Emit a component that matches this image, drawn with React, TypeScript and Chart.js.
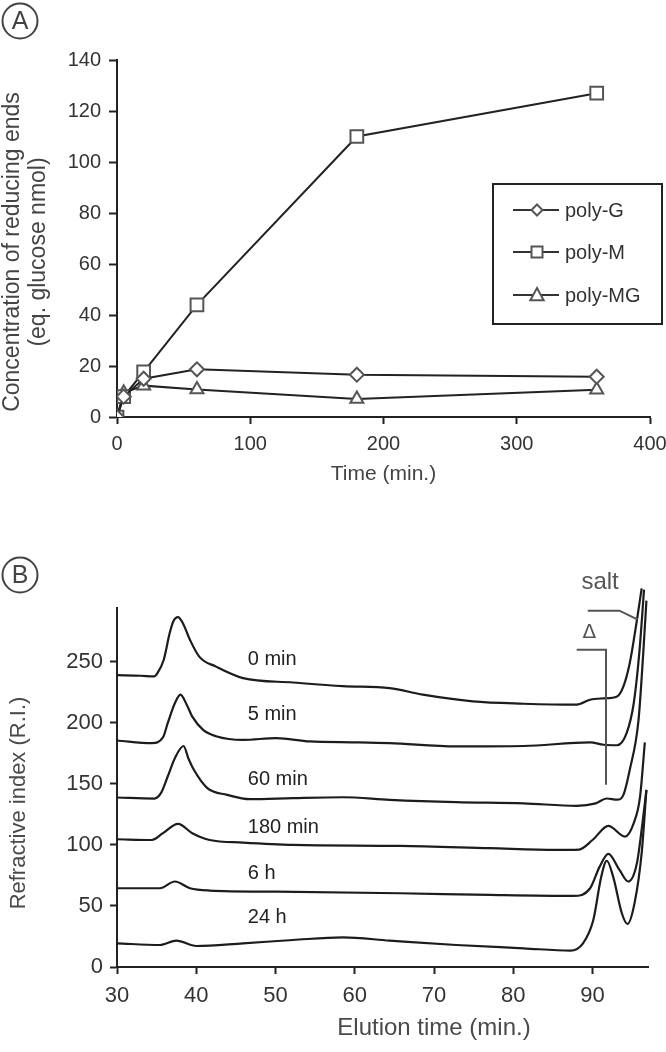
import React, { useEffect, useRef } from 'react';
import { Chart, registerables } from 'chart.js';
Chart.register(...registerables);

const FONT = '"Liberation Sans", Arial, Helvetica, sans-serif';

// ---------- Panel A data ----------
const timeMin = [0, 5, 20, 60, 180, 360];
const polyG = [0, 8, 15, 18.7, 16.6, 15.8];
const polyM = [0, 8, 17.7, 44, 110, 127];
const polyMG = [0, 9.5, 12.3, 10.8, 7.1, 10.7];
const seriesNamesA = ['poly-G', 'poly-M', 'poly-MG'];
const xTicksA = [0, 100, 200, 300, 400];
const yTicksA = [0, 20, 40, 60, 80, 100, 120, 140];

// ---------- Panel B data (elution time, refractive index) ----------
const t0min = [30, 33, 34.7, 35.1, 35.9, 36.65, 37.1, 37.7, 38.3, 39.2, 40.4, 42.5, 45.9, 52.2, 58.5, 64.4, 68.6, 74.9, 81.3, 88, 89.7, 91.4, 93.1, 93.9, 94.7, 95.6, 96.2];
const ri0min = [239, 238.5, 238, 240.7, 251.6, 273.5, 283, 286.6, 281.7, 268, 254, 246, 236.6, 233, 230, 228.4, 223, 217.5, 215.6, 214.8, 218.9, 220, 221.6, 229.8, 249, 284, 310];
const t5min = [30, 34.4, 35.8, 36.4, 37.3, 38, 38.8, 39.5, 40.9, 42.5, 45.9, 50.1, 54.3, 60, 64.4, 72.8, 81.3, 89.7, 91.4, 93.1, 94.3, 95.2, 95.9, 96.5];
const ri5min = [185.5, 183.4, 188, 199.7, 216, 223, 214.8, 205, 194, 189, 186, 187.4, 184.7, 184, 183.3, 180.6, 181, 183.9, 182, 181.6, 191.5, 216, 257, 309];
const t60min = [30, 34.7, 35.6, 36.4, 37.3, 38.4, 39.0, 39.7, 41.4, 43.9, 46.8, 52.2, 58.5, 64.4, 72.8, 81.3, 88, 90.4, 91.8, 93.1, 93.9, 94.7, 95.8, 96.4, 96.8];
const ri60min = [138.8, 137.9, 143, 156, 171, 181, 171, 161.5, 146.5, 141, 137.4, 138.3, 139, 136.9, 135, 134, 132, 134, 138, 137, 141, 161.5, 202, 257, 300];
const t180min = [30, 34.4, 35.8, 37.7, 39.5, 41.7, 45.9, 52.2, 65.7, 77, 85.4, 88.3, 90, 92, 94.1, 95.2, 96, 96.6];
const ri180min = [104.6, 104, 109.6, 117.2, 109.6, 104, 101.9, 100, 99.2, 97.3, 95.9, 96.2, 104, 115.6, 106.8, 117.8, 139.6, 184];
const t6h = [30, 35.4, 37.3, 39.2, 41.7, 50.1, 65.7, 77, 87.6, 89.7, 90.9, 92, 93.4, 94.5, 95.6, 96.3, 96.8];
const ri6h = [64.5, 64.5, 70, 64.5, 62.6, 61.7, 60.4, 59, 58.2, 64.5, 82.2, 92.6, 79.5, 70, 85, 117.8, 145];
const t24h = [30, 35.4, 37.5, 40, 45.9, 52.2, 58.5, 64.4, 72.8, 81.3, 87.2, 88.8, 90.1, 91.1, 91.8, 92.6, 93.7, 94.4, 95.3, 96.2, 96.8];
const ri24h = [19.4, 18, 21.6, 17.2, 19.4, 22.1, 24.3, 21.6, 18, 15.3, 13.4, 19.4, 38.5, 74, 87, 74, 44, 35.2, 52.2, 93.2, 145];
const traceLabels = ['0 min', '5 min', '60 min', '180 min', '6 h', '24 h'];
const traceLabelY = [251.6, 206.6, 153.3, 114, 76.2, 40.2];
const traceLabelX = 46.5;
const xTicksB = [30, 40, 50, 60, 70, 80, 90];
const yTicksB = [0, 50, 100, 150, 200, 250];

const zip = (xs: number[], ys: number[]) => xs.map((x, i) => ({ x, y: ys[i] }));

function circledLetter(ctx: CanvasRenderingContext2D, cx: number, cy: number, letter: string) {
  ctx.save();
  ctx.beginPath();
  ctx.arc(cx, cy, 17.5, 0, Math.PI * 2);
  ctx.lineWidth = 2;
  ctx.strokeStyle = '#444';
  ctx.stroke();
  ctx.fillStyle = '#444';
  ctx.font = `25px ${FONT}`;
  ctx.textAlign = 'center';
  ctx.textBaseline = 'middle';
  ctx.fillText(letter, cx, cy + 1);
  ctx.restore();
}

function drawMarker(ctx: CanvasRenderingContext2D, style: string, x: number, y: number, r: number) {
  ctx.beginPath();
  if (style === 'rectRot') {
    ctx.moveTo(x, y - r); ctx.lineTo(x + r, y); ctx.lineTo(x, y + r); ctx.lineTo(x - r, y); ctx.closePath();
  } else if (style === 'rect') {
    ctx.rect(x - r, y - r, 2 * r, 2 * r);
  } else {
    ctx.moveTo(x, y - r); ctx.lineTo(x + r * 0.95, y + r * 0.75); ctx.lineTo(x - r * 0.95, y + r * 0.75); ctx.closePath();
  }
  ctx.fillStyle = '#fff';
  ctx.fill();
  ctx.lineWidth = 2;
  ctx.strokeStyle = '#555';
  ctx.stroke();
}

const markerStyles = ['rectRot', 'rect', 'triangle'];

const decoA = {
  id: 'decoA',
  afterDraw(chart: any) {
    const ctx: CanvasRenderingContext2D = chart.ctx;
    const area = chart.chartArea;
    circledLetter(ctx, 20, 21, 'A');
    ctx.save();
    ctx.fillStyle = '#444';
    ctx.font = `21px ${FONT}`;
    ctx.textAlign = 'center';
    ctx.textBaseline = 'middle';
    ctx.fillText('Time (min.)', (area.left + area.right) / 2, 474);
    // y title
    ctx.translate(0, 252);
    ctx.rotate(-Math.PI / 2);
    ctx.font = `23px ${FONT}`;
    ctx.fillText('Concentration of reducing ends', 0, 13);
    ctx.fillText('(eq. glucose nmol)', 0, 39);
    ctx.restore();
    // legend
    ctx.save();
    ctx.lineWidth = 2;
    ctx.strokeStyle = '#222';
    ctx.strokeRect(493, 184, 169, 140);
    const rows = [210, 252, 295];
    seriesNamesA.forEach((name, i) => {
      const y = rows[i];
      ctx.beginPath();
      ctx.moveTo(513, y); ctx.lineTo(559, y);
      ctx.strokeStyle = '#333';
      ctx.lineWidth = 2;
      ctx.stroke();
      drawMarker(ctx, markerStyles[i], 537, y, i === 0 ? 5.5 : i === 1 ? 5.5 : 7);
      ctx.fillStyle = '#333';
      ctx.font = `20px ${FONT}`;
      ctx.textAlign = 'left';
      ctx.textBaseline = 'middle';
      ctx.fillText(name, 565, y + 1);
    });
    ctx.restore();
  },
};

const decoB = {
  id: 'decoB',
  afterDraw(chart: any) {
    const ctx: CanvasRenderingContext2D = chart.ctx;
    const xs = chart.scales.x;
    const ys = chart.scales.y;
    circledLetter(ctx, 20, 55, 'B');
    ctx.save();
    ctx.fillStyle = '#4a4a4a';
    ctx.font = `24px ${FONT}`;
    ctx.textAlign = 'center';
    ctx.textBaseline = 'middle';
    ctx.fillText('Elution time (min.)', 434, 508);
    ctx.save();
    ctx.translate(19, 283);
    ctx.rotate(-Math.PI / 2);
    ctx.font = `22px ${FONT}`;
    ctx.fillText('Refractive index (R.I.)', 0, 0);
    ctx.restore();
    // trace labels
    ctx.fillStyle = '#222';
    ctx.font = `20px ${FONT}`;
    ctx.textAlign = 'left';
    traceLabels.forEach((t, i) => {
      ctx.fillText(t, xs.getPixelForValue(traceLabelX), ys.getPixelForValue(traceLabelY[i]));
    });
    // salt annotation
    ctx.fillStyle = '#555';
    ctx.font = `24px ${FONT}`;
    ctx.fillText('salt', xs.getPixelForValue(88.6), ys.getPixelForValue(315));
    ctx.strokeStyle = '#555';
    ctx.lineWidth = 2;
    ctx.beginPath();
    ctx.moveTo(xs.getPixelForValue(89.4), ys.getPixelForValue(291.8));
    ctx.lineTo(xs.getPixelForValue(93.4), ys.getPixelForValue(291.8));
    ctx.lineTo(xs.getPixelForValue(95.7), ys.getPixelForValue(284.4));
    ctx.stroke();
    // delta annotation
    ctx.font = `20px "DejaVu Sans", ${FONT}`;
    ctx.textAlign = 'center';
    ctx.fillText('Δ', xs.getPixelForValue(89.6), ys.getPixelForValue(273.8));
    ctx.beginPath();
    ctx.moveTo(xs.getPixelForValue(88), ys.getPixelForValue(259.8));
    ctx.lineTo(xs.getPixelForValue(91.7), ys.getPixelForValue(259.8));
    ctx.lineTo(xs.getPixelForValue(91.7), ys.getPixelForValue(149.2));
    ctx.stroke();
    ctx.restore();
  },
};

function axisCommon(size: number, tickLen: number, pad: number) {
  return {
    type: 'linear' as const,
    grid: { drawOnChartArea: false, drawTicks: true, tickLength: tickLen, tickWidth: 2, tickColor: '#222' },
    border: { display: true, color: '#222', width: 2 },
    ticks: { font: { family: FONT, size }, color: '#333', padding: pad, maxRotation: 0, autoSkip: false },
  };
}

export default function App() {
  const refA = useRef<HTMLCanvasElement>(null);
  const refB = useRef<HTMLCanvasElement>(null);

  useEffect(() => {
    const pointCommon = { pointBackgroundColor: '#fff', pointBorderColor: '#555', pointBorderWidth: 2, borderColor: '#222', borderWidth: 2, tension: 0, showLine: true };
    const chartA = new Chart(refA.current!, {
      type: 'scatter',
      data: {
        datasets: [
          { label: seriesNamesA[0], data: zip(timeMin, polyG), pointStyle: 'rectRot', pointRadius: 7, ...pointCommon },
          { label: seriesNamesA[1], data: zip(timeMin, polyM), pointStyle: 'rect', pointRadius: 9, ...pointCommon },
          { label: seriesNamesA[2], data: zip(timeMin, polyMG), pointStyle: 'triangle', pointRadius: 7.5, ...pointCommon },
        ],
      },
      options: {
        responsive: false,
        animation: false,
        layout: { padding: { left: 0, right: 16, top: 60, bottom: 0 } },
        plugins: { legend: { display: false }, tooltip: { enabled: false } },
        scales: {
          x: {
            ...axisCommon(20, 7, 8),
            min: 0, max: 400,
            afterBuildTicks: (s: any) => { s.ticks = xTicksA.map((v) => ({ value: v })); },
            afterFit: (s: any) => { s.height = 103; s.paddingLeft = 0; s.paddingRight = 0; },
          },
          y: {
            ...axisCommon(20, 8, 8),
            min: 0, max: 140,
            afterBuildTicks: (s: any) => { s.ticks = yTicksA.map((v) => ({ value: v })); },
            afterFit: (s: any) => { s.width = 117; s.paddingTop = 0; s.paddingBottom = 0; },
          },
        },
      } as any,
      plugins: [decoA],
    });

    const traces = [zip(t0min, ri0min), zip(t5min, ri5min), zip(t60min, ri60min), zip(t180min, ri180min), zip(t6h, ri6h), zip(t24h, ri24h)];
    const chartB = new Chart(refB.current!, {
      type: 'scatter',
      data: {
        datasets: traces.map((d, i) => ({
          label: traceLabels[i], data: d, showLine: true, pointRadius: 0, borderColor: '#1c1c1c', borderWidth: 2.2,
          cubicInterpolationMode: 'monotone', clip: false,
        })),
      },
      options: {
        responsive: false,
        animation: false,
        layout: { padding: { left: 0, right: 18, top: 88, bottom: 0 } },
        plugins: { legend: { display: false }, tooltip: { enabled: false } },
        scales: {
          x: {
            ...axisCommon(22, 7, 9),
            min: 30, max: 97,
            afterBuildTicks: (s: any) => { s.ticks = xTicksB.map((v) => ({ value: v })); },
            afterFit: (s: any) => { s.height = 85; s.paddingLeft = 0; s.paddingRight = 0; },
          },
          y: {
            ...axisCommon(22, 7, 7),
            min: 0, max: 294,
            afterBuildTicks: (s: any) => { s.ticks = yTicksB.map((v) => ({ value: v })); },
            afterFit: (s: any) => { s.width = 117; s.paddingTop = 0; s.paddingBottom = 0; },
          },
        },
      } as any,
      plugins: [decoB],
    });
    return () => { chartA.destroy(); chartB.destroy(); };
  }, []);

  return (
    <div style={{ position: 'absolute', left: 0, top: 0, width: 666, height: 1052, background: '#fff' }}>
      <canvas ref={refA} width={666} height={520} style={{ position: 'absolute', left: 0, top: 0 }} />
      <canvas ref={refB} width={666} height={532} style={{ position: 'absolute', left: 0, top: 520 }} />
    </div>
  );
}
